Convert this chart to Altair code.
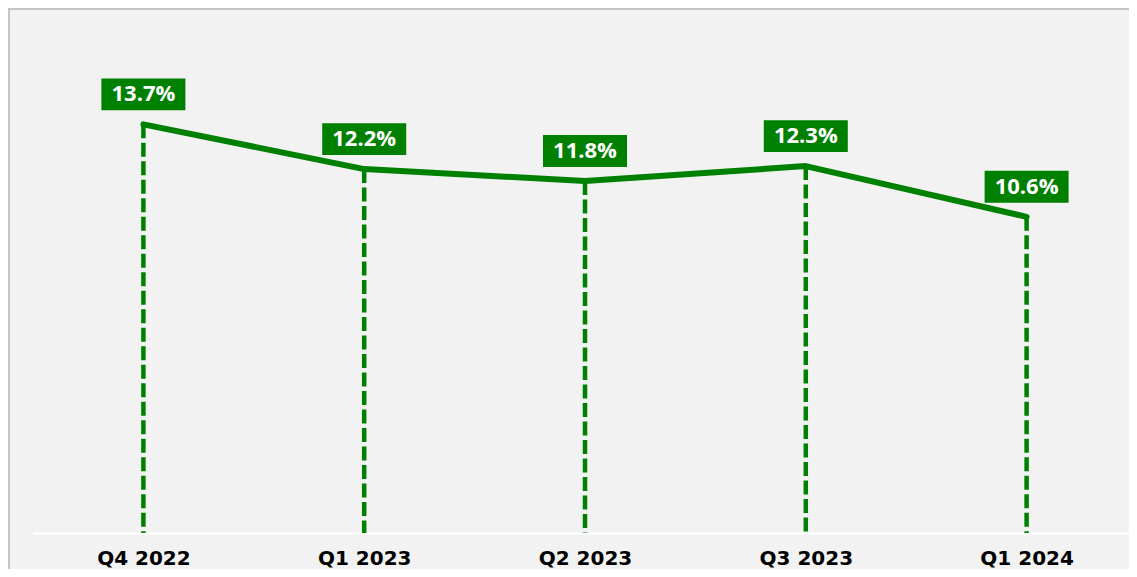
import altair as alt
import pandas as pd

quarters = ["Q4 2022", "Q1 2023", "Q2 2023", "Q3 2023", "Q1 2024"]
values = [13.7, 12.2, 11.8, 12.3, 10.6]
labels = [f"{v:.1f}%" for v in values]

df = pd.DataFrame({"quarter": quarters, "value": values, "label": labels})

GREEN = "#008000"
W, H = 1104, 522

x = alt.X(
    "quarter:N",
    sort=quarters,
    scale=alt.Scale(type="point", padding=0.5),
    axis=alt.Axis(
        title=None,
        ticks=False,
        tickSize=0,
        grid=False,
        domainColor="white",
        domainWidth=2,
        labelFont="DejaVu Sans",
        labelFontWeight="bold",
        labelFontSize=20,
        labelColor="#000000",
        labelPadding=31,
        labelBaseline="alphabetic",
        labelAngle=0,
    ),
)
y = alt.Y("value:Q", scale=alt.Scale(domain=[0, 17.5], nice=False, zero=True), axis=None)

base = alt.Chart(df)

drops = base.mark_rule(color=GREEN, strokeWidth=4.5, strokeDash=[14, 4.5]).encode(
    x=x, y=y, y2=alt.datum(0)
)
line = base.mark_line(color=GREEN, strokeWidth=6, strokeCap="round", strokeJoin="round").encode(
    x=x, y=y
)
boxes = base.mark_point(
    shape="M-1,-0.38L1,-0.38L1,0.38L-1,0.38Z",
    size=7056,
    filled=True,
    opacity=1,
    color=GREEN,
    strokeWidth=0,
    yOffset=-30,
).encode(x=x, y=y)
texts = base.mark_text(
    color="white",
    font="Open Sans",
    fontWeight="bold",
    fontSize=22,
    baseline="middle",
    align="center",
    dy=-30,
).encode(x=x, y=y, text="label:N")

border_left = alt.Chart(df).mark_rule(color="#c4c4c4", strokeWidth=2).encode(
    x=alt.value(-24), y=alt.value(-3), y2=alt.value(H + 44)
)
border_top = alt.Chart(df).mark_rule(color="#c4c4c4", strokeWidth=2).encode(
    x=alt.value(-25), x2=alt.value(W), y=alt.value(-2)
)

chart = (
    alt.layer(border_left, border_top, drops, line, boxes, texts)
    .properties(
        width=W,
        height=H,
        background="#f2f2f2",
        padding={"left": 25, "top": 3, "right": -8, "bottom": 36},
        autosize=alt.AutoSizeParams(type="none"),
    )
    .configure_view(stroke=None)
)

chart.save("out.html", embed_options={"renderer": "svg", "actions": False})
